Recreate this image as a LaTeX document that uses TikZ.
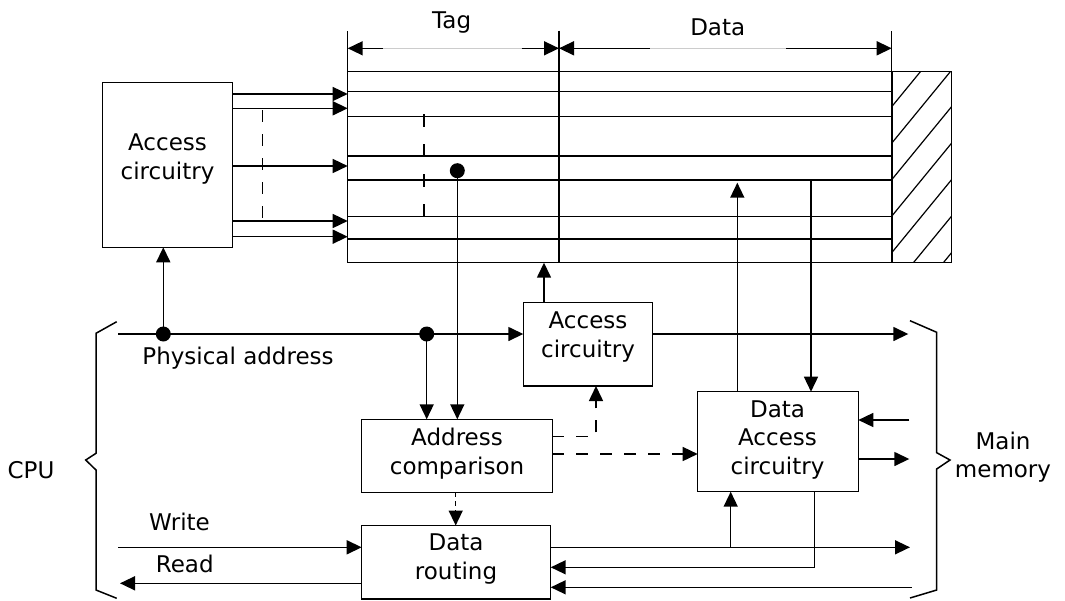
\documentclass[tikz,border=0pt]{standalone}
\usepackage{fontspec}
\setmainfont{DejaVu Sans}
\usetikzlibrary{arrows.meta,calc}
\begin{document}
\begin{tikzpicture}[x=1pt,y=-1pt, line width=1.5pt, >={Triangle[length=15pt,width=14pt]},
 box/.style={draw, inner sep=0pt, outer sep=0pt, anchor=north west},
 lbl/.style={font=\fontsize{23}{28.5}\selectfont, align=center, inner sep=0pt},
 dsh/.style={dash pattern=on 12pt off 12pt},
 dotnode/.style={circle, fill, inner sep=0pt, minimum size=15pt}]
\useasboundingbox (0,0) rectangle (1065,600);

% boxes
\node[box, minimum width=130.4pt, minimum height=165pt] (acc1) at (102.3,82.3) {};
\node[box, minimum width=129.4pt, minimum height=83.3pt] (acc2) at (523.3,302.7) {};
\node[box, minimum width=190.6pt, minimum height=73pt] (cmp) at (361.7,419.3) {};
\node[box, minimum width=189pt, minimum height=73.5pt] (route) at (361.7,525.5) {};
\node[box, minimum width=160.6pt, minimum height=100pt] (dacc) at (697.7,391.7) {};
\node[box, minimum width=544pt, minimum height=191pt] (arr) at (347.7,71.7) {};
\node[box, minimum width=60pt, minimum height=191pt] (hatch) at (891.7,71.7) {};

% texts
\node[lbl] (tacc1) at (167.5,159) {Access\\circuitry};
\node[lbl] (tacc2) at (588,337) {Access\\circuitry};
\node[lbl] (tcmp) at (457,453.5) {Address\\comparison};
\node[lbl] (troute) at (456,559) {Data\\routing};
\node[lbl] (tdacc) at (777.5,439.5) {Data\\Access\\circuitry};
\node[lbl] (tmm) at (1003,457) {Main\\memory};
\node[lbl, anchor=base] (ttag) at (451.7,28) {Tag};
\node[lbl, anchor=base] (tdata) at (717.7,35) {Data};
\node[lbl, anchor=base] (tcpu) at (31,478) {CPU};
\node[lbl, anchor=base] (tpa) at (238,364) {Physical address};
\node[lbl, anchor=base] (twrite) at (179.5,530) {Write};
\node[lbl, anchor=base] (tread) at (184.7,572.3) {Read};

% array rows
\foreach \y in {91.7,116.7,156,180,216.7,239}
  \draw (arr.west |- 0,\y) -- (arr.east |- 0,\y);
\draw (559,30.7) -- (arr.south -| 559,0);
\draw (arr.north west) -- (347.7,30.7);
\draw (arr.north east) -- (891.7,30.7);
\draw[line width=2.2pt] (arr.north east) -- (arr.south east);

% dimension arrows
\draw[<-] (347.7,48.3) -- (383,48.3);
\draw[black!20, line width=0.8pt] (383,48.3) -- (521.7,48.3);
\draw[->] (521.7,48.3) -- (559,48.3);
\draw[<-] (559,48.3) -- (650,48.3);
\draw[black!20, line width=0.8pt] (650,48.3) -- (786,48.3);
\draw[->] (786,48.3) -- (891.7,48.3);

% hatch
\begin{scope}
\clip (hatch.north west) rectangle (hatch.south east);
\foreach \k in {0,...,6}
  \draw[line width=1.2pt] (891.7,106.7+36.5*\k) -- ++(100,-122);
\end{scope}

% access circuitry to array
\foreach \y in {94,108.3,166,221,236.7}
  \draw[->] (acc1.east |- 0,\y) -- (arr.west |- 0,\y);
\draw[dsh] (262.3,110) -- (262.3,221);
\draw[dash pattern=on 13pt off 17pt] (424,114) -- (424,222);

% dots and physical address
\node[dotnode] (d1) at (457.3,170.7) {};
\draw[->] (d1.center) -- (cmp.north -| d1);
\coordinate (pa) at (118.3,334);
\node[dotnode] (d2) at (163.3,334) {};
\node[dotnode] (d3) at (426.7,334) {};
\draw[->] (pa) -- (acc2.west |- pa);
\draw[->] (d2.center) -- (acc1.south -| d2);
\draw[->] (d3.center) -- (cmp.north -| d3);

% access circuitry 2
\draw[->] (acc2.north -| 544,0) -- (arr.south -| 544,0);
\coordinate (mm1) at (908.3,334);
\draw[->] (acc2.east |- mm1) -- (mm1);

% dashed control
\draw[dsh,->] (cmp.east |- 0,436.7) -| (acc2.south -| 596,0);
\draw[dsh,->] (cmp.east |- 0,454) -- (dacc.west |- 0,454);
\draw[dash pattern=on 5pt off 4pt,->] (cmp.south -| 455.7,0) -- (route.north -| 455.7,0);

% data access circuitry
\coordinate (up1) at (737.3,182.7);
\coordinate (dn1) at (811,180);
\draw[->] (dacc.north -| up1) -- (up1);
\draw[->] (dn1) -- (dacc.north -| dn1);
\coordinate (mm2) at (909.3,420);
\coordinate (mm3) at (909.3,459);
\draw[->] (mm2) -- (dacc.east |- mm2);
\draw[->] (dacc.east |- mm3) -- (mm3);

% bottom
\coordinate (w) at (118.3,547.3);
\coordinate (r) at (120,583.3);
\draw[->] (w) -- (route.west |- w);
\draw[->] (route.west |- r) -- (r);
\coordinate (mm4) at (910,547.3);
\draw[->] (route.east |- mm4) -- (mm4);
\coordinate (j1) at (730.7,547.3);
\draw[->] (j1) -- (dacc.south -| j1);
\draw[->] (dacc.south -| 814.3,0) |- (route.east |- 0,567.3);
\coordinate (mm5) at (911.7,587.3);
\draw[->] (mm5) -- (route.east |- mm5);

% braces
\draw (116.7,321.7) -- (96,333.3) -- (96,453.3) -- (85.7,460) -- (96,470) -- (96,590) -- (116.7,598.3);
\draw (910,320.7) -- (936.7,332.3) -- (936.7,452.7) -- (950,460) -- (936.7,469) -- (936.7,590) -- (910,598);
\end{tikzpicture}
\end{document}
